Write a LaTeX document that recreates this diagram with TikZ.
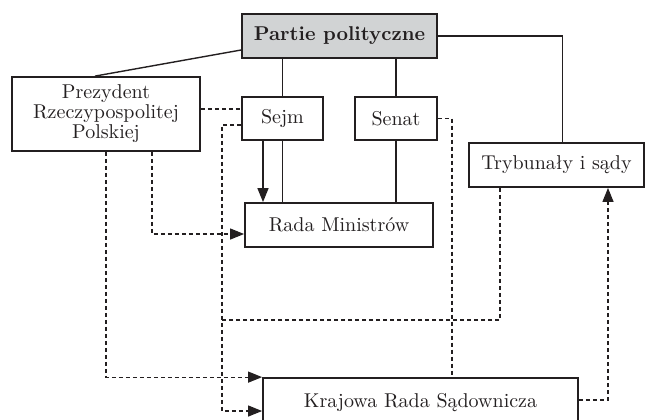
\documentclass[tikz,border=0pt]{standalone}
\usetikzlibrary{arrows.meta}
\usepackage{xcolor}
\definecolor{inkgray}{HTML}{231F20}
\definecolor{boxgray}{HTML}{D1D3D4}

\begin{document}
\begin{tikzpicture}[x=0.5pt, y=-0.5pt,
  every node/.style={draw=inkgray, line width=0.9pt, fill=white, inner sep=2pt, text=inkgray},
  organ/.style={minimum height=22pt},
  link/.style={draw=inkgray, line width=0.7pt},
  dlink/.style={draw=inkgray, line width=0.6pt, dash pattern=on 2pt off 1.5pt},
  >={Triangle[length=7pt, width=5.5pt]}]
\useasboundingbox (0,0) rectangle (646,419);

\node[organ, fill=boxgray, minimum width=97.5pt, font=\bfseries] (partie) at (339.5,36) {Partie polityczne};
\node[minimum width=94pt, minimum height=37pt, align=center, font=\fontsize{10}{8.5}\selectfont] (prezydent) at (106,114) {Prezydent\\Rzeczypospolitej\\Polskiej};
\node[organ, minimum width=40.5pt, minimum height=21.5pt] (sejm) at (282.5,118.5) {Sejm};
\node[organ, minimum width=41pt, minimum height=21.5pt] (senat) at (396,118.5) {Senat};
\node[organ, minimum width=87.5pt] (trybunaly) at (556.5,165) {Trybunały i sądy};
\node[organ, minimum width=94pt] (rada) at (339,225) {Rada Ministrów};
\node[minimum width=157.5pt, minimum height=25pt] (krajowa) at (420.5,403) {Krajowa Rada Sądownicza};

% partie polityczne
\draw[link] ([yshift=-7pt]partie.west) -- ([xshift=-5.5pt]prezydent.north);
\draw[link] (partie.south -| sejm.north) -- (sejm.north);
\draw[link] (partie.south -| senat.north) -- (senat.north);
\draw[link] (partie.east) -| ([xshift=3pt]trybunaly.north);
\draw[link] (sejm.south) -- (sejm.south |- rada.north);
\draw[link] (senat.south) -- (senat.south |- rada.north);
\draw[link, ->] ([xshift=-9.75pt]sejm.south) -- ([xshift=-9.75pt]sejm.south |- rada.north);

% powiazania przerywane
\coordinate (sejmdrop) at (222,125);
\coordinate (join) at (222,320);
\draw[dlink] ([yshift=2.5pt]prezydent.east) -- ([yshift=2.5pt]prezydent.east -| sejm.west);
\draw[dlink, ->] ([yshift=-3.25pt]sejm.west) -- (sejmdrop) |- ([yshift=-4pt]krajowa.west);
\draw[dlink] ([xshift=-28.25pt]trybunaly.south) |- (join);
\draw[dlink, ->] ([xshift=23pt]prezydent.south) |- ([yshift=-4.5pt]rada.west);
\draw[dlink, ->] (prezydent.south) |- (krajowa.north west);
\draw[dlink] (senat.east) -- ++(7pt,0) coordinate (senatdrop) -- (senatdrop |- krajowa.north);
\draw[dlink, ->] ([yshift=1.5pt]krajowa.east) -| ([xshift=25.75pt]trybunaly.south);
\end{tikzpicture}
\end{document}
